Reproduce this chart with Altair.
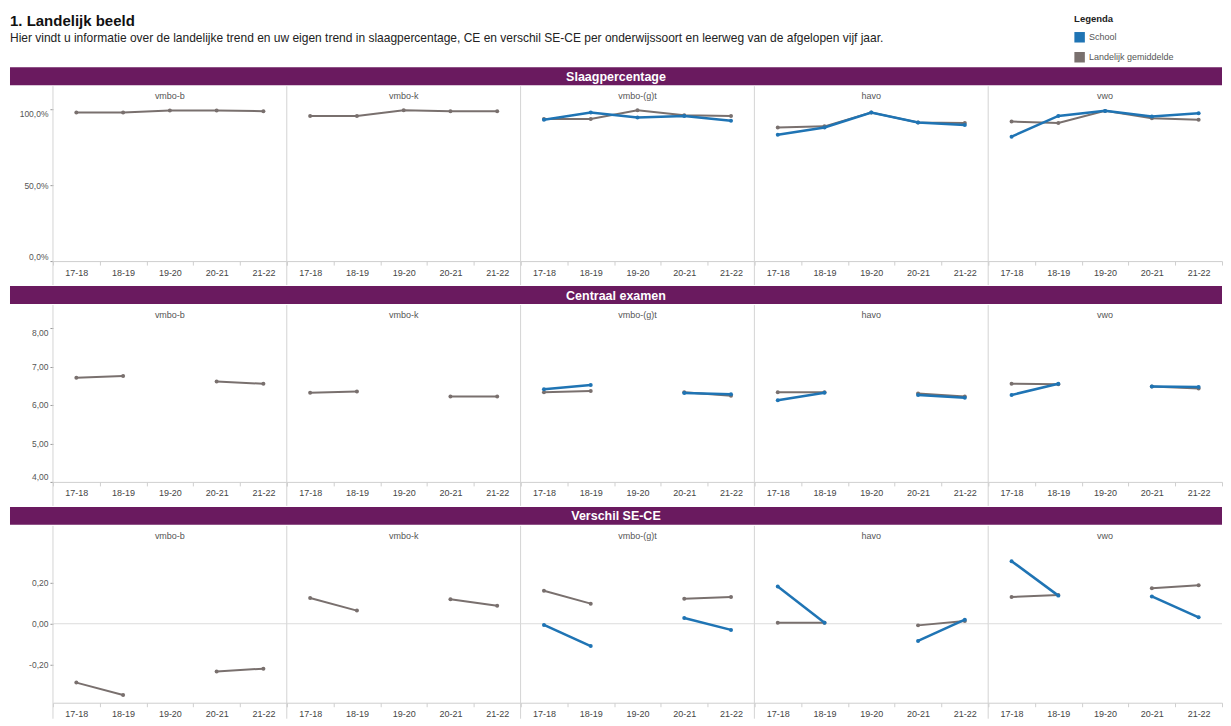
import altair as alt
import pandas as pd

FONT = "Liberation Sans"
BLUE = "#1f74b4"
GRAY = "#79706e"
PURPLE = "#6a1a5f"

jaren = ["17-18", "18-19", "19-20", "20-21", "21-22"]
niveaus = ["vmbo-b", "vmbo-k", "vmbo-(g)t", "havo", "vwo"]
reeksen = ["School", "Landelijk gemiddelde"]

TITEL = "1. Landelijk beeld"
ONDERTITEL = ("Hier vindt u informatie over de landelijke trend en uw eigen trend in "
              "slaagpercentage, CE en verschil SE-CE per onderwijssoort en leerweg van "
              "de afgelopen vijf jaar.")

# Slaagpercentage (fraction)
slaag_landelijk = {
    "vmbo-b": [0.978, 0.978, 0.991, 0.991, 0.987],
    "vmbo-k": [0.956, 0.956, 0.993, 0.987, 0.987],
    "vmbo-(g)t": [0.935, 0.935, 0.993, 0.961, 0.956],
    "havo": [0.880, 0.887, 0.978, 0.913, 0.909],
    "vwo": [0.919, 0.909, 0.989, 0.941, 0.930],
}
slaag_school = {
    "vmbo-(g)t": [0.930, 0.978, 0.945, 0.956, 0.924],
    "havo": [0.832, 0.880, 0.978, 0.913, 0.896],
    "vwo": [0.819, 0.956, 0.989, 0.952, 0.974],
}

# Centraal examen (gemiddeld cijfer), 19-20 geen examen
ce_landelijk = {
    "vmbo-b": [6.71, 6.75, None, 6.61, 6.55],
    "vmbo-k": [6.32, 6.35, None, 6.22, 6.22],
    "vmbo-(g)t": [6.33, 6.36, None, 6.33, 6.24],
    "havo": [6.33, 6.33, None, 6.30, 6.22],
    "vwo": [6.55, 6.54, None, 6.48, 6.43],
}
ce_school = {
    "vmbo-(g)t": [6.41, 6.52, None, 6.31, 6.28],
    "havo": [6.12, 6.32, None, 6.26, 6.19],
    "vwo": [6.26, 6.55, None, 6.48, 6.47],
}

# Verschil SE-CE
sece_landelijk = {
    "vmbo-b": [-0.287, -0.347, None, -0.233, -0.219],
    "vmbo-k": [0.125, 0.064, None, 0.119, 0.088],
    "vmbo-(g)t": [0.161, 0.098, None, 0.122, 0.130],
    "havo": [0.005, 0.005, None, -0.008, 0.013],
    "vwo": [0.130, 0.140, None, 0.173, 0.188],
}
sece_school = {
    "vmbo-(g)t": [-0.006, -0.109, None, 0.028, -0.030],
    "havo": [0.181, 0.005, None, -0.084, 0.020],
    "vwo": [0.305, 0.137, None, 0.133, 0.031],
}

W = 234      # panel width
AX = 45      # y-axis extent
PW = 5 * W   # plot width of a section
COLOR_SCALE = alt.Scale(domain=reeksen, range=[BLUE, GRAY])


def build_df(landelijk, school):
    recs = []
    for reeks, src in (("Landelijk gemiddelde", landelijk), ("School", school)):
        for niv, vals in src.items():
            seg = 0
            for j, v in zip(jaren, vals):
                if v is None:
                    seg += 1
                    continue
                recs.append(dict(niveau=niv, reeks=reeks, jaar=j, waarde=v,
                                 seg=f"{reeks}-{seg}"))
    return pd.DataFrame(recs)


def banner(text, header=False):
    df = pd.DataFrame({"t": [text]})
    rect = alt.Chart(df).mark_rect(color=PURPLE).encode(
        x=alt.value(-(AX - 2)), x2=alt.value(PW), y=alt.value(0), y2=alt.value(18))
    txt = alt.Chart(df).mark_text(color="white", fontWeight="bold", fontSize=12.5,
                                  font=FONT, baseline="middle", align="center").encode(
        x=alt.value((PW - (AX - 2)) / 2), y=alt.value(9.5), text="t:N")
    layers = [rect, txt]
    if header:
        hdf = pd.DataFrame({"titel": [TITEL], "sub": [ONDERTITEL]})
        t1 = alt.Chart(hdf).mark_text(font=FONT, fontSize=15, fontWeight="bold",
                                      color="#111", align="left", baseline="middle").encode(
            x=alt.value(-(AX - 2)), y=alt.value(-46), text="titel:N")
        t2 = alt.Chart(hdf).mark_text(font=FONT, fontSize=12, color="#222",
                                      align="left", baseline="middle").encode(
            x=alt.value(-(AX - 2)), y=alt.value(-29), text="sub:N")
        ldf = pd.DataFrame({"reeks": reeksen})
        leg = alt.Chart(ldf).mark_square(size=0, filled=True, opacity=1).encode(
            x=alt.value(0), y=alt.value(0),
            color=alt.Color("reeks:N", scale=COLOR_SCALE,
                            legend=alt.Legend(
                                title="Legenda", orient="none", legendX=1022,
                                legendY=-53, symbolType="square", symbolSize=110,
                                symbolStrokeWidth=0, symbolOpacity=1,
                                titleFontSize=9.5, titleFont=FONT,
                                titleFontWeight="bold", titleColor="#222",
                                labelFontSize=9, labelFont=FONT, labelColor="#555",
                                rowPadding=9, titlePadding=8)))
        layers += [t1, t2, leg]
    return alt.layer(*layers).properties(width=PW, height=18)


def section(df, domain, ticks, label_expr, h, zero=False, bottom_ext=24):
    X = alt.X("jaar:N", sort=jaren, bandPosition=0.5,
              scale=alt.Scale(type="band", domain=jaren, paddingInner=0, paddingOuter=0),
              axis=alt.Axis(title=None, labelAngle=0, labelFontSize=9, labelFont=FONT,
                            labelColor="#444", domainColor="#cfcfcf", tickColor="#cfcfcf",
                            tickSize=4, tickBand="extent", labelPadding=3, grid=False))
    Y = alt.Y("waarde:Q", scale=alt.Scale(domain=domain, nice=False, zero=False),
              axis=alt.Axis(title=None, values=ticks, labelExpr=label_expr, grid=False,
                            domain=False, tickSize=3, tickColor="#999", labelFontSize=8.5,
                            labelFont=FONT, labelColor="#555", labelFlush=True,
                            minExtent=AX, maxExtent=AX))
    col = alt.Color("reeks:N", scale=COLOR_SCALE, legend=None)

    sep = alt.Chart().transform_aggregate(n="count()", groupby=["niveau"]).mark_rule(
        color="#d4d4d4", strokeWidth=1).encode(
        x=alt.value(0), y=alt.value(-23), y2=alt.value(h + bottom_ext))
    layers = [sep]
    if zero:
        layers.append(alt.Chart().transform_aggregate(n="count()", groupby=["niveau"])
                      .mark_rule(color="#dcdcdc", strokeWidth=1).encode(y=alt.datum(0)))
    for reeks, sw in (("Landelijk gemiddelde", 2), ("School", 2.5)):
        ln = alt.Chart().transform_filter(alt.datum.reeks == reeks).mark_line(
            strokeWidth=sw).encode(x=X, y=Y, color=col, detail="seg:N")
        pt = alt.Chart().transform_filter(alt.datum.reeks == reeks).mark_point(
            filled=True, size=16, opacity=1).encode(x=X, y=Y, color=col)
        layers += [ln, pt]
    lay = alt.layer(*layers, data=df).properties(width=W, height=h)
    return lay.facet(
        column=alt.Column("niveau:N", sort=niveaus, title=None,
                          header=alt.Header(labelFontSize=9, labelFont=FONT,
                                            labelColor="#555", labelPadding=8)),
        spacing=0, bounds="flush")


pct_expr = "replace(format(datum.value, '.1%'), '.', ',')"
num_expr = "replace(replace(format(datum.value, '.2f'), '.', ','), '\u2212', '-')"

sec1 = alt.vconcat(banner("Slaagpercentage", header=True),
                   section(build_df(slaag_landelijk, slaag_school), [0, 1.0],
                           [0, 0.5, 1.0], pct_expr, 152), spacing=0)
sec2 = alt.vconcat(banner("Centraal examen"),
                   section(build_df(ce_landelijk, ce_school), [4, 8],
                           [4, 5, 6, 7, 8], num_expr, 154), spacing=0)
sec3 = alt.vconcat(banner("Verschil SE-CE"),
                   section(build_df(sece_landelijk, sece_school), [-0.385, 0.365],
                           [-0.2, 0, 0.2], num_expr, 154, zero=True, bottom_ext=16),
                   spacing=0)

chart = alt.vconcat(sec1, sec2, sec3, spacing=0).properties(
    padding={"left": 0, "top": 6, "right": 0, "bottom": 0},
).resolve_legend(color="independent").configure(
    font=FONT, view=alt.ViewConfig(stroke=None))

chart.save("out.html", embed_options={"renderer": "svg", "actions": False})
